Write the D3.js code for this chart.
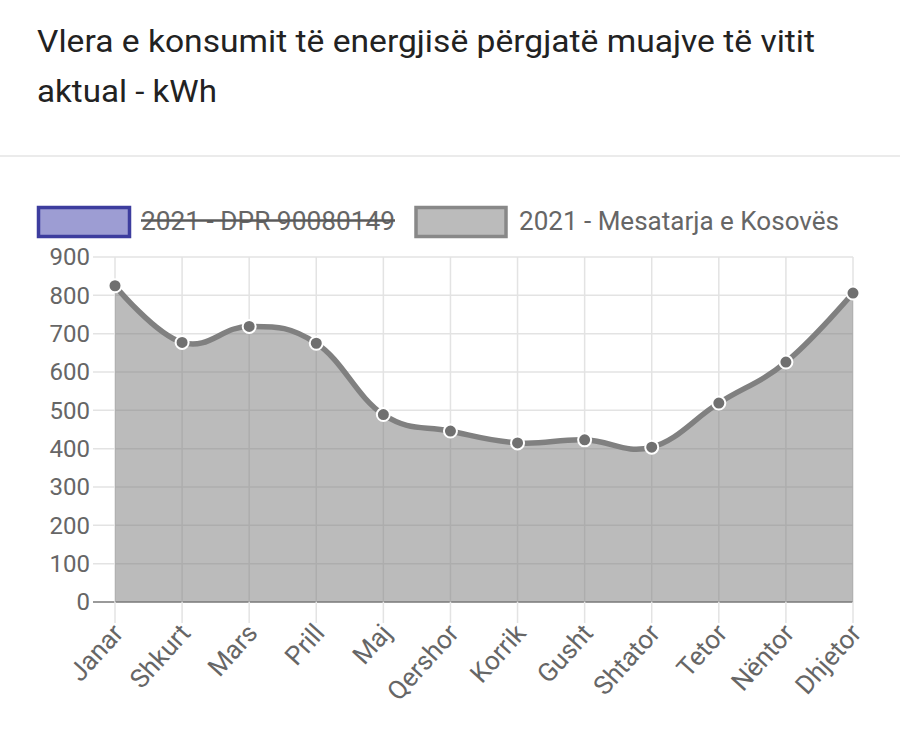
<!DOCTYPE html>
<html>
<head>
<meta charset="utf-8">
<script src="https://cdn.jsdelivr.net/npm/d3@7"></script>
<style>
  html, body { margin: 0; padding: 0; background: #fff; }
  svg { display: block; font-family: Roboto, "Noto Sans", sans-serif; }
</style>
</head>
<body>
<div id="chart"></div>
<script>
// chart data
const months = ["Janar", "Shkurt", "Mars", "Prill", "Maj", "Qershor", "Korrik", "Gusht", "Shtator", "Tetor", "Nëntor", "Dhjetor"];
const kosovoAvg = [825, 677, 719, 675, 489, 446, 415, 423, 404, 519, 626, 806];
const yTicks = [0, 100, 200, 300, 400, 500, 600, 700, 800, 900];
const legendLabels = ["2021 - DPR 90080149", "2021 - Mesatarja e Kosovës"];
const titleLines = ["Vlera e konsumit të energjisë përgjatë muajve të vitit", "aktual - kWh"];

const W = 900, H = 738;
const plot = {left: 115, right: 853, top: 257, bottom: 602};

const svg = d3.select("#chart").append("svg")
    .attr("width", W)
    .attr("height", H);

// title
svg.append("text")
    .attr("x", 37).attr("y", 52)
    .attr("font-size", 31)
    .attr("fill", "#222")
    .attr("textLength", 778)
    .attr("lengthAdjust", "spacingAndGlyphs")
    .text(titleLines[0]);
svg.append("text")
    .attr("x", 37).attr("y", 102)
    .attr("font-size", 31)
    .attr("fill", "#222")
    .attr("textLength", 180)
    .attr("lengthAdjust", "spacingAndGlyphs")
    .text(titleLines[1]);

svg.append("line")
    .attr("x1", 0).attr("x2", W)
    .attr("y1", 156).attr("y2", 156)
    .attr("stroke", "#ebebeb")
    .attr("stroke-width", 2);

// scales
const x = d3.scalePoint().domain(months).range([plot.left, plot.right]);
const y = d3.scaleLinear().domain([0, 900]).range([plot.bottom, plot.top]);

// legend
const legend = svg.append("g");
legend.append("rect")
    .attr("x", 38.5).attr("y", 207.5).attr("width", 91).attr("height", 29)
    .attr("fill", "#9d9dd3").attr("stroke", "#3d3d9e").attr("stroke-width", 3.5);
legend.append("text")
    .attr("x", 141).attr("y", 229.5)
    .attr("font-size", 25).attr("fill", "#666")
    .attr("textLength", 254)
    .attr("lengthAdjust", "spacingAndGlyphs")
    .text(legendLabels[0]);
legend.append("line")
    .attr("x1", 141).attr("x2", 395)
    .attr("y1", 220.5).attr("y2", 220.5)
    .attr("stroke", "#5a5a5a").attr("stroke-width", 2.5);
legend.append("rect")
    .attr("x", 416).attr("y", 207.5).attr("width", 90).attr("height", 29)
    .attr("fill", "#bbbbbb").attr("stroke", "#888").attr("stroke-width", 3.5);
legend.append("text")
    .attr("x", 519).attr("y", 229.5)
    .attr("font-size", 25).attr("fill", "#666")
    .attr("textLength", 320)
    .attr("lengthAdjust", "spacingAndGlyphs")
    .text(legendLabels[1]);

// gridlines
const grid = svg.append("g");
grid.selectAll(".hg").data(yTicks).enter().append("line")
    .attr("x1", plot.left - 22).attr("x2", plot.right)
    .attr("y1", d => y(d)).attr("y2", d => y(d))
    .attr("stroke", d => d === 0 ? "#9a9a9a" : "#e3e3e3")
    .attr("stroke-width", d => d === 0 ? 2 : 1.5);
grid.selectAll(".vg").data(months).enter().append("line")
    .attr("x1", d => x(d)).attr("x2", d => x(d))
    .attr("y1", plot.top).attr("y2", plot.bottom + 21)
    .attr("stroke", "#e3e3e3")
    .attr("stroke-width", 1.5);

// y labels
svg.append("g").selectAll("text").data(yTicks).enter().append("text")
    .attr("x", 90).attr("y", d => y(d))
    .attr("dy", "0.35em")
    .attr("text-anchor", "end")
    .attr("font-size", 24).attr("fill", "#666")
    .text(d => d);

// x labels
svg.append("g").selectAll("text").data(months).enter().append("text")
    .attr("transform", d => `translate(${x(d) + 3},${plot.bottom + 26}) rotate(-48)`)
    .attr("dy", "0.35em")
    .attr("text-anchor", "end")
    .attr("font-size", 26).attr("fill", "#666")
    .text(d => d);

// area + line, chart.js-like spline (tension 0.4)
const curve = d3.curveCardinal.tension(-0.2);
const area = d3.area()
    .x((d, i) => x(months[i]))
    .y0(y(0))
    .y1(d => y(d))
    .curve(curve);
const line = d3.line()
    .x((d, i) => x(months[i]))
    .y(d => y(d))
    .curve(curve);

svg.append("clipPath").attr("id", "clip")
    .append("rect")
    .attr("x", plot.left).attr("y", plot.top - 10)
    .attr("width", plot.right - plot.left).attr("height", plot.bottom - plot.top + 10);

svg.append("path")
    .datum(kosovoAvg)
    .attr("clip-path", "url(#clip)")
    .attr("d", area)
    .attr("fill", "rgba(120,120,120,0.5)");

svg.append("path")
    .datum(kosovoAvg)
    .attr("d", line)
    .attr("fill", "none")
    .attr("stroke", "#808080")
    .attr("stroke-width", 5.5)
    .attr("stroke-linejoin", "round");

svg.append("g").selectAll("circle").data(kosovoAvg).enter().append("circle")
    .attr("cx", (d, i) => x(months[i]))
    .attr("cy", d => y(d))
    .attr("r", 6.5)
    .attr("fill", "#707070")
    .attr("stroke", "#fff")
    .attr("stroke-width", 2);
</script>
</body>
</html>
